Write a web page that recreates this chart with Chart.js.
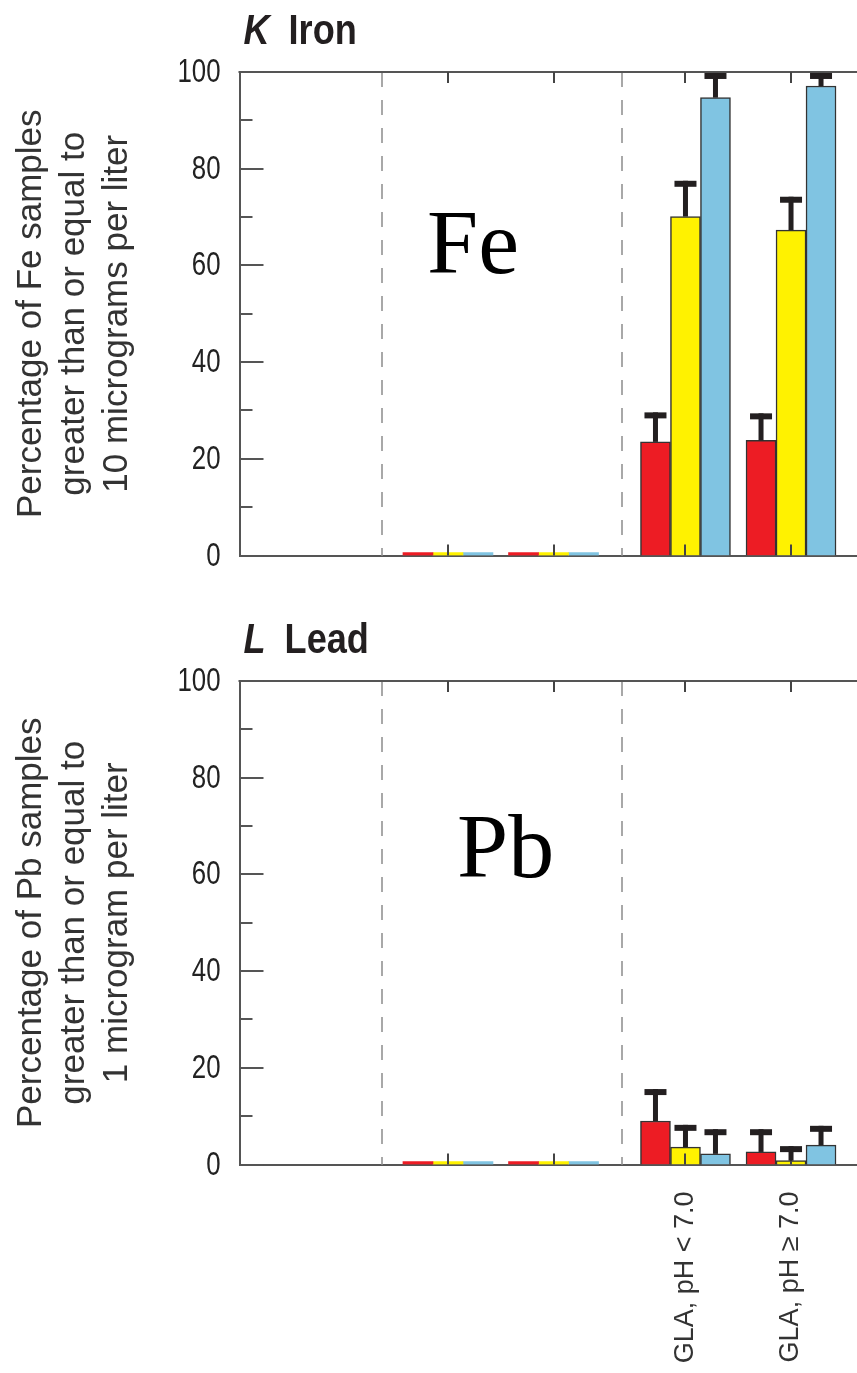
<!DOCTYPE html>
<html>
<head>
<meta charset="utf-8">
<script src="https://cdn.jsdelivr.net/npm/chart.js@4.4.1/dist/chart.umd.min.js"></script>
<style>
  body { margin:0; background:#fff; width:857px; height:1373px; overflow:hidden; position:relative; }
  .panel { position:absolute; left:0; width:857px; }
  .elem { position:absolute; font-family:'Liberation Serif','Times New Roman',serif; font-size:92px; line-height:92px; color:#000; }
</style>
</head>
<body>
<div class="panel" style="top:0;height:600px"><canvas id="fe-chart"></canvas></div>
<div class="panel" style="top:600px;height:773px"><canvas id="pb-chart"></canvas></div>
<div class="elem" style="left:427px;top:196px">Fe</div>
<div class="elem" style="left:457px;top:800px">Pb</div>
<script>
'use strict';

// ── Data ──────────────────────────────────────────────────────────────────────
const groupPos    = [8, 12, 17, 21];
const groupLabels = ['', '', 'GLA, pH < 7.0', 'GLA, pH \u2265 7.0'];
const dividerPos  = [5.5, 14.6];

const feRed       = [0, 0, 23.5, 23.8];
const feYellow    = [0, 0, 70.1, 67.3];
const feBlue      = [0, 0, 94.7, 97.1];
const feRedErr    = [null, null, 29.6, 29.4];
const feYellowErr = [null, null, 77.5, 74.2];
const feBlueErr   = [null, null, 99.8, 99.8];

const pbRed       = [0, 0, 9.0, 2.6];
const pbYellow    = [0, 0, 3.6, 0.8];
const pbBlue      = [0, 0, 2.2, 4.0];
const pbRedErr    = [null, null, 15.6, 7.3];
const pbYellowErr = [null, null, 8.2, 3.8];
const pbBlueErr   = [null, null, 7.3, 8.0];

const SANS = "'Liberation Sans', Arial, sans-serif";
const INK = '#231f20';

// condensed text helper (the figure's type is a narrow grotesque)
function narrowText(ctx, txt, x, y, squeeze) {
  ctx.save();
  ctx.translate(x, y);
  ctx.scale(squeeze, 1);
  ctx.fillText(txt, 0, 0);
  ctx.restore();
  return ctx.measureText(txt).width * squeeze;
}

// ── Frame, inward ticks, dividers, error bars, panel title ───────────────────
const panelDecor = {
  id: 'panelDecor',
  beforeDatasetsDraw(chart) {
    const { ctx, chartArea: a, scales: { x } } = chart;
    ctx.save();
    ctx.strokeStyle = '#a8a8a8'; ctx.lineWidth = 2; ctx.setLineDash([15, 13]);
    dividerPos.forEach(v => {
      const px = Math.round(x.getPixelForValue(v));
      ctx.beginPath(); ctx.moveTo(px, a.top); ctx.lineTo(px, a.bottom); ctx.stroke();
    });
    ctx.restore();
  },
  afterDatasetsDraw(chart, args, opts) {
    const { ctx, chartArea: a, scales: { x, y } } = chart;
    ctx.save();
    ctx.strokeStyle = '#555'; ctx.lineWidth = 2;
    ctx.beginPath(); ctx.moveTo(a.left - 1, a.top); ctx.lineTo(a.right, a.top); ctx.stroke();

    // y ticks inward + labels
    ctx.fillStyle = '#222';
    ctx.font = `34px ${SANS}`;
    ctx.textBaseline = 'middle';
    y.ticks.forEach(t => {
      const py = Math.round(y.getPixelForValue(t.value));
      const major = t.value % 20 === 0;
      ctx.beginPath(); ctx.moveTo(a.left, py); ctx.lineTo(a.left + (major ? 24 : 13), py); ctx.stroke();
      if (major) {
        const txt = String(t.value);
        const w = ctx.measureText(txt).width * 0.76;
        narrowText(ctx, txt, a.left - 19 - w, py + 1, 0.76);
      }
    });

    ctx.strokeStyle = '#444';
    groupPos.forEach(v => {
      const px = Math.round(x.getPixelForValue(v));
      ctx.beginPath(); ctx.moveTo(px, a.bottom); ctx.lineTo(px, a.bottom - 11); ctx.stroke();
      ctx.beginPath(); ctx.moveTo(px, a.top); ctx.lineTo(px, a.top + 11); ctx.stroke();
    });

    ctx.fillStyle = INK;
    opts.errors.forEach((errs, di) => {
      chart.getDatasetMeta(di).data.forEach((bar, i) => {
        const e = errs[i];
        if (e == null) return;
        const top = y.getPixelForValue(e);
        ctx.fillRect(bar.x - 2.5, top, 5, bar.y - top);
        ctx.fillRect(bar.x - 11, top, 22, 6);
      });
    });

    ctx.textAlign = 'left'; ctx.textBaseline = 'alphabetic';
    ctx.font = `italic bold 42px ${SANS}`;
    const kw = narrowText(ctx, opts.letter, a.left + 4, a.top - 28, 0.86);
    ctx.font = `bold 42px ${SANS}`;
    narrowText(ctx, opts.name, a.left + 4 + kw + 19, a.top - 28, 0.86);
    ctx.restore();
  }
};

function makePanel(id, p) {
  const ctx = document.getElementById(id);
  const toPts = arr => groupPos.map((g, i) => ({ x: g, y: arr[i] }));
  new Chart(ctx, {
    type: 'bar',
    data: {
      datasets: [
        { label: 'red', data: toPts(p.red), backgroundColor: '#ed1c24' },
        { label: 'yellow', data: toPts(p.yellow), backgroundColor: '#fff200' },
        { label: 'blue', data: toPts(p.blue), backgroundColor: '#80c4e2' }
      ]
    },
    plugins: [panelDecor],
    options: {
      responsive: true, maintainAspectRatio: false, animation: false,
      layout: { padding: { top: p.padTop, left: 0, right: 0, bottom: 0 } },
      datasets: { bar: { barThickness: 30, minBarLength: 3, borderColor: '#333',
        borderWidth: c => (c.parsed && c.parsed.y > 0 ? 1.5 : 0) } },
      plugins: {
        legend: { display: false }, tooltip: { enabled: false },
        panelDecor: { errors: p.errors, letter: p.letter, name: p.name }
      },
      scales: {
        x: {
          type: 'linear', min: 0.1, max: 23.5, offset: false,
          grid: { display: false, drawTicks: false, offset: false },
          border: { color: '#555', width: 2 },
          ticks: { display: p.showLabels, autoSkip: false, minRotation: 90, maxRotation: 90, padding: 27,
            font: { family: SANS, size: 27 }, color: '#333',
            callback: (v, i) => groupLabels[i] || '' },
          afterBuildTicks: s => { s.ticks = groupPos.map(v => ({ value: v })); },
          afterFit: s => { s.height = p.xHeight; s.paddingLeft = 0; s.paddingRight = 0; }
        },
        y: {
          min: 0, max: 100,
          grid: { display: false, drawTicks: false },
          border: { color: '#555', width: 2 },
          ticks: { stepSize: 10, autoSkip: false, display: false },
          title: { display: true, text: p.yTitle, color: '#333',
            font: { family: SANS, size: 35, lineHeight: '43px' }, padding: { top: 10, bottom: 0 } },
          afterFit: s => { s.width = 239.5; }
        }
      }
    }
  });
}

makePanel('fe-chart', {
  red: feRed, yellow: feYellow, blue: feBlue,
  errors: [feRedErr, feYellowErr, feBlueErr],
  letter: 'K', name: 'Iron', padTop: 72, xHeight: 44.5, showLabels: false,
  yTitle: ['Percentage of Fe samples', 'greater than or equal to', '10 micrograms per liter']
});

makePanel('pb-chart', {
  red: pbRed, yellow: pbYellow, blue: pbBlue,
  errors: [pbRedErr, pbYellowErr, pbBlueErr],
  letter: 'L', name: 'Lead', padTop: 81, xHeight: 208.5, showLabels: true,
  yTitle: ['Percentage of Pb samples', 'greater than or equal to', '1 microgram per liter']
});
</script>
</body>
</html>
